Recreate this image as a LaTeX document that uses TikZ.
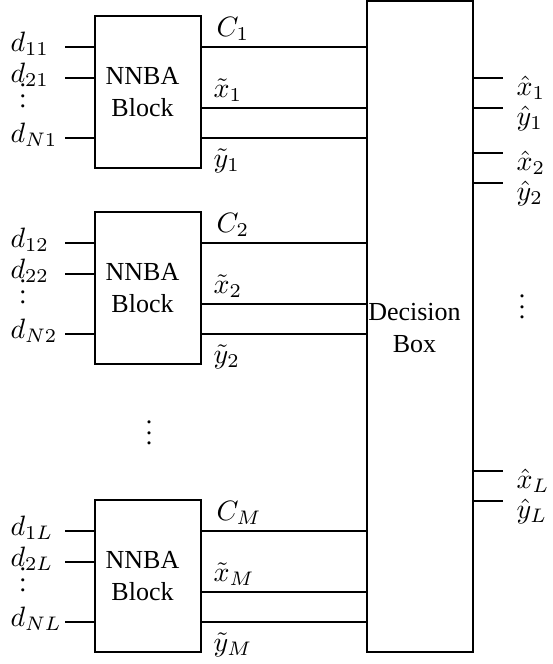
\documentclass[tikz,border=0pt]{standalone}
\usepackage{fontspec}
\setmainfont{Liberation Serif}
\newcommand{\scmath}[1]{\scalebox{2.8}{$#1$}}
\newcommand{\scdots}{\scalebox{2.6}{$\vdots$}}
\begin{document}
\begin{tikzpicture}[x=1pt,y=-1pt,line width=1.1pt,
  blk/.style={draw,minimum width=106pt,minimum height=152pt,inner sep=0pt},
  btxt/.style={align=center,inner sep=0pt,font=\fontsize{26}{32}\selectfont},
  lbl/.style={inner sep=0pt,anchor=base west},
  dotsn/.style={inner sep=0pt,anchor=south}]
\useasboundingbox (0,0) rectangle (552,664);
\node[draw,minimum width=106pt,minimum height=651pt,inner sep=0pt] (dec) at (420,326.5) {};
\node[btxt] (dect) at (414.5,328) {Decision\\Box};
\foreach \b/\T/\cs/\d in {1/16/1/1, 2/212/2/2, 3/500/M/L}{
  \node[blk] (b\b) at (148,\T+76) {};
  \node[btxt] (bt\b) at (142.5,\T+76) {NNBA\\Block};
  \coordinate (ia\b) at (65,\T+31);
  \coordinate (ib\b) at (65,\T+62);
  \coordinate (ic\b) at (65,\T+122);
  \coordinate (ox\b) at (300,\T+92);
  \draw (ia\b) -- (ia\b -| b\b.west);
  \draw (ib\b) -- (ib\b -| b\b.west);
  \draw (ic\b) -- (ic\b -| b\b.west);
  \draw (b\b.east |- ia\b) -- (dec.west |- ia\b);
  \draw (b\b.east |- ox\b) -- (dec.west |- ox\b);
  \draw (b\b.east |- ic\b) -- (dec.west |- ic\b);
  \node[lbl] (da\b) at (10,\T+35) {\scmath{d_{1\d}}};
  \node[lbl] (db\b) at (10,\T+66) {\scmath{d_{2\d}}};
  \node[lbl] (dc\b) at (10,\T+126) {\scmath{d_{N\d}}};
  \node[dotsn] (dv\b) at (23,\T+92.5) {\scdots};
  \node[lbl] (lc\b) at (216,\T+20) {\scmath{C_{\cs}}};
  \node[lbl] (lx\b) at (213,\T+81) {\scmath{\tilde{x}_{\cs}}};
  \node[lbl] (ly\b) at (213,\T+151) {\scmath{\tilde{y}_{\cs}}};
}
\foreach \i/\y/\lab in {1/78/{\hat{x}_1}, 2/108/{\hat{y}_1}, 3/153/{\hat{x}_2}, 4/183/{\hat{y}_2}, 5/471/{\hat{x}_L}, 6/501/{\hat{y}_L}}{
  \coordinate (r\i) at (503,\y);
  \draw (dec.east |- r\i) -- (r\i);
  \node[lbl] (rl\i) at (516,\y+17) {\scmath{\lab}};
}
\node[dotsn] (vmid) at (149,445.5) {\scdots};
\node[dotsn] (vright) at (522,319.5) {\scdots};
\end{tikzpicture}
\end{document}
